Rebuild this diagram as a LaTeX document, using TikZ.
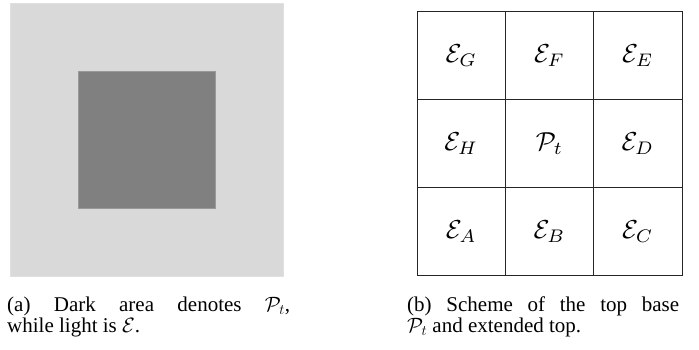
\documentclass[tikz,border=0pt]{standalone}
\usepackage{fontspec}
\setmainfont{Liberation Serif}
\newcommand{\mymath}[2]{\scalebox{#1}{$#2$}}
\begin{document}
\begin{tikzpicture}[x=1pt,y=-1pt,
  cell/.style={draw=black!85,line width=0.9pt,minimum width=88.3pt,minimum height=88pt,inner sep=0pt},
  captext/.style={anchor=base west,inner sep=0pt,font=\fontsize{21}{21.7}\selectfont}]
\useasboundingbox (0,0) rectangle (699,349);
% (a)
\node[draw=black!12,line width=0.5pt,fill=black!15,minimum size=273pt,inner sep=0pt] (light) at (146.5,139.5) {};
\node[draw=black!40,line width=0.6pt,fill=black!50,minimum size=137pt,inner sep=0pt] (dark) at (147,139.5) {};
% (b)
\foreach \lab/\c/\r in {G/0/0,F/1/0,E/2/0,H/0/1,D/2/1,A/0/2,B/1/2,C/2/2}{
  \node[cell] (c\c\r) at ({461.2+88.3*\c},{55.5+88*\r}) {\mymath{2.6}{\mathcal{E}_{\lab}}};
}
\node[cell] (c11) at (549.5,143.5) {\mymath{2.6}{\mathcal{P}_t}};
% captions
\node[captext] (capa) at (7,311) {\parbox[t]{283pt}{(a) Dark area denotes $\mathcal{P}_t$,\linebreak while light is $\mathcal{E}$.}};
\node[captext] (capb) at (407,311) {\parbox[t]{272pt}{(b) Scheme of the top base\linebreak $\mathcal{P}_t$ and extended top.}};
\end{tikzpicture}
\end{document}
